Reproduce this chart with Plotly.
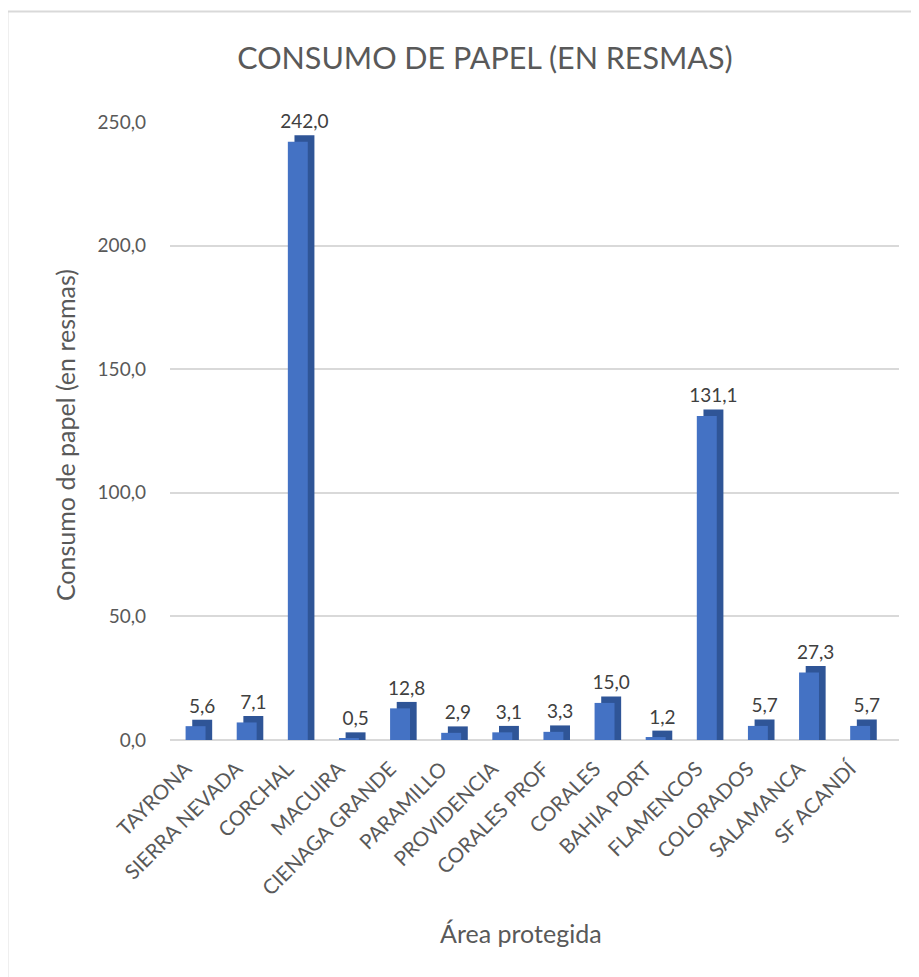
import plotly.graph_objects as go

# Consumo de papel por área protegida (resmas)
areas = [
    'TAYRONA', 'SIERRA NEVADA', 'CORCHAL', 'MACUIRA', 'CIENAGA GRANDE',
    'PARAMILLO', 'PROVIDENCIA', 'CORALES PROF', 'CORALES', 'BAHIA PORT',
    'FLAMENCOS', 'COLORADOS', 'SALAMANCA', 'SF ACANDÍ',
]
resmas = [5.6, 7.1, 242.0, 0.5, 12.8, 2.9, 3.1, 3.3, 15.0, 1.2, 131.1, 5.7, 27.3, 5.7]
y_ticks = [0, 50, 100, 150, 200, 250]

FONT = 'Lato'
GREY = '#595959'
FRONT = '#4472C4'
SIDE = '#2F5597'
depth = 2.6       # fake 3D depth, in data units
bar_w = 0.39

fig = go.Figure()

# dark "side/top" face, shifted right and up a little
fig.add_trace(go.Bar(
    x=areas, y=[v + depth for v in resmas], customdata=resmas,
    width=bar_w, offset=-bar_w / 2 + 0.13,
    marker=dict(color=SIDE, line=dict(width=0)),
    texttemplate='%{customdata:.1f}', textposition='outside',
    constraintext='none',
    textfont=dict(family=FONT, size=19, color='#404040'),
    cliponaxis=False, hoverinfo='skip',
))
# front face
fig.add_trace(go.Bar(
    x=areas, y=resmas, width=bar_w, offset=-bar_w / 2,
    marker=dict(color=FRONT, line=dict(width=0)),
    hovertemplate='%{x}: %{y:.1f}<extra></extra>',
))

# the page body has an 8px margin, so margins are shifted by 8px
fig.update_layout(
    width=919, height=977,
    barmode='overlay',
    separators=',.',
    showlegend=False,
    paper_bgcolor='white', plot_bgcolor='white',
    margin=dict(l=162, r=28, t=114, b=245),
    font=dict(family=FONT, color=GREY),
    title=dict(text='CONSUMO DE PAPEL (EN RESMAS)', x=0.519, xanchor='center',
               y=0.949, yanchor='middle',
               font=dict(family=FONT, size=30.5, color=GREY)),
    xaxis=dict(range=[-0.5, 13.76], tickangle=-45, showgrid=False,
               showline=False, zeroline=False, ticks='',
               tickfont=dict(family=FONT, size=20.5, color=GREY),
               ticklabelstandoff=12, ticklabelshift=-10),
    yaxis=dict(range=[0, 250], tickvals=y_ticks, tickformat='.1f',
               gridcolor='#D9D9D9', gridwidth=1.5, zeroline=True,
               zerolinecolor='#D9D9D9', zerolinewidth=1.5,
               showline=False, ticks='',
               tickfont=dict(family=FONT, size=19, color=GREY),
               ticklabelstandoff=23),
    annotations=[
        dict(text='Consumo de papel (en resmas)', xref='paper', yref='paper',
             x=-0.143, y=0.493, xanchor='center', yanchor='middle',
             textangle=-90, showarrow=False,
             font=dict(family=FONT, size=25, color=GREY)),
        dict(text='Área protegida', xref='paper', yref='paper',
             x=0.482, y=-0.312, xanchor='center', yanchor='middle',
             showarrow=False,
             font=dict(family=FONT, size=25, color=GREY)),
    ],
    shapes=[dict(type='rect', xref='paper', yref='paper',
                 x0=-0.223, x1=1.2, y0=-0.4, y1=1.179,
                 line=dict(color='#D9D9D9', width=2), layer='below')],
)

fig.write_html('out.html')
